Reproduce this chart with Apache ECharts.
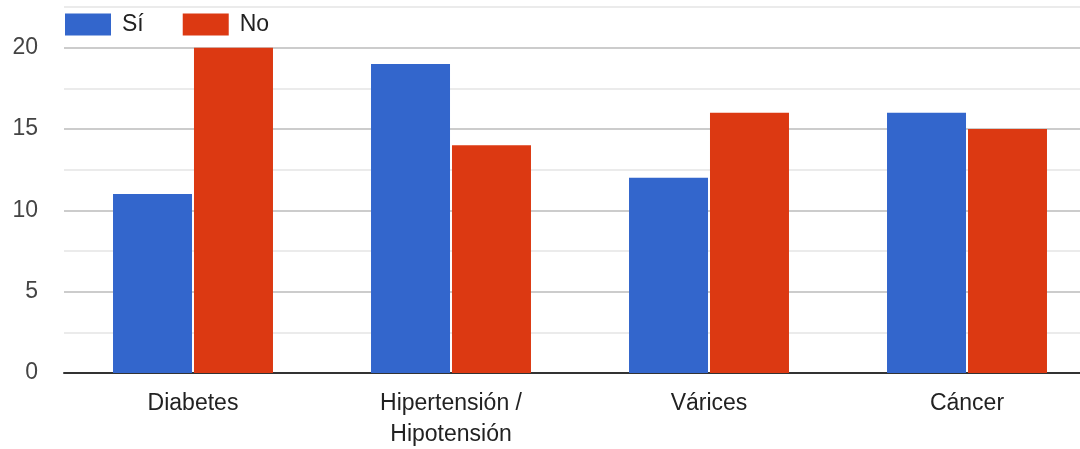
<!DOCTYPE html>
<html><head><meta charset="utf-8">
<script src="https://cdn.jsdelivr.net/npm/echarts@6/dist/echarts.min.js"></script>
<style>html,body{margin:0;padding:0;background:#fff}#c{width:1080px;height:449px}</style>
</head><body><div id="c"></div>
<script>
const categories = ['Diabetes', 'Hipertensión /\nHipotensión', 'Várices', 'Cáncer'];
const siValues = [11, 19, 12, 16];
const noValues = [20, 14, 16, 15];
const seriesNames = ['Sí', 'No'];

const chart = echarts.init(document.getElementById('c'));
chart.setOption({
  animation: false,
  textStyle: { fontFamily: 'Arial, "Liberation Sans", sans-serif' },
  legend: {
    left: 65, top: 13, padding: 0,
    itemWidth: 46, itemHeight: 22, itemGap: 39,
    icon: 'rect',
    textStyle: { fontSize: 23, color: '#222', padding: [0, 0, 0, 6] },
    data: seriesNames
  },
  grid: { left: 64, right: -16, top: 7, bottom: 76, containLabel: false, outerBoundsMode: 'none' },
  xAxis: {
    type: 'category', data: categories,
    axisLine: { lineStyle: { color: '#333', width: 2 } },
    axisTick: { show: false },
    axisLabel: { fontSize: 23, color: '#222', margin: 15, lineHeight: 31, interval: 0 }
  },
  yAxis: {
    type: 'value', min: 0, max: 22.5, interval: 2.5,
    axisLine: { show: false }, axisTick: { show: false },
    axisLabel: { fontSize: 23, color: '#444', margin: 26,
      formatter: v => (Math.abs(v % 5) < 1e-9 ? String(v) : '') },
    splitLine: { lineStyle: { color: ['#cccccc', '#ebebeb'], width: 2 } }
  },
  series: [
    { name: seriesNames[0], type: 'bar', data: siValues, barWidth: 79, barGap: '2.5%',
      itemStyle: { color: '#3366cc' } },
    { name: seriesNames[1], type: 'bar', data: noValues, barWidth: 79,
      itemStyle: { color: '#dc3912' } }
  ]
});
</script></body></html>
